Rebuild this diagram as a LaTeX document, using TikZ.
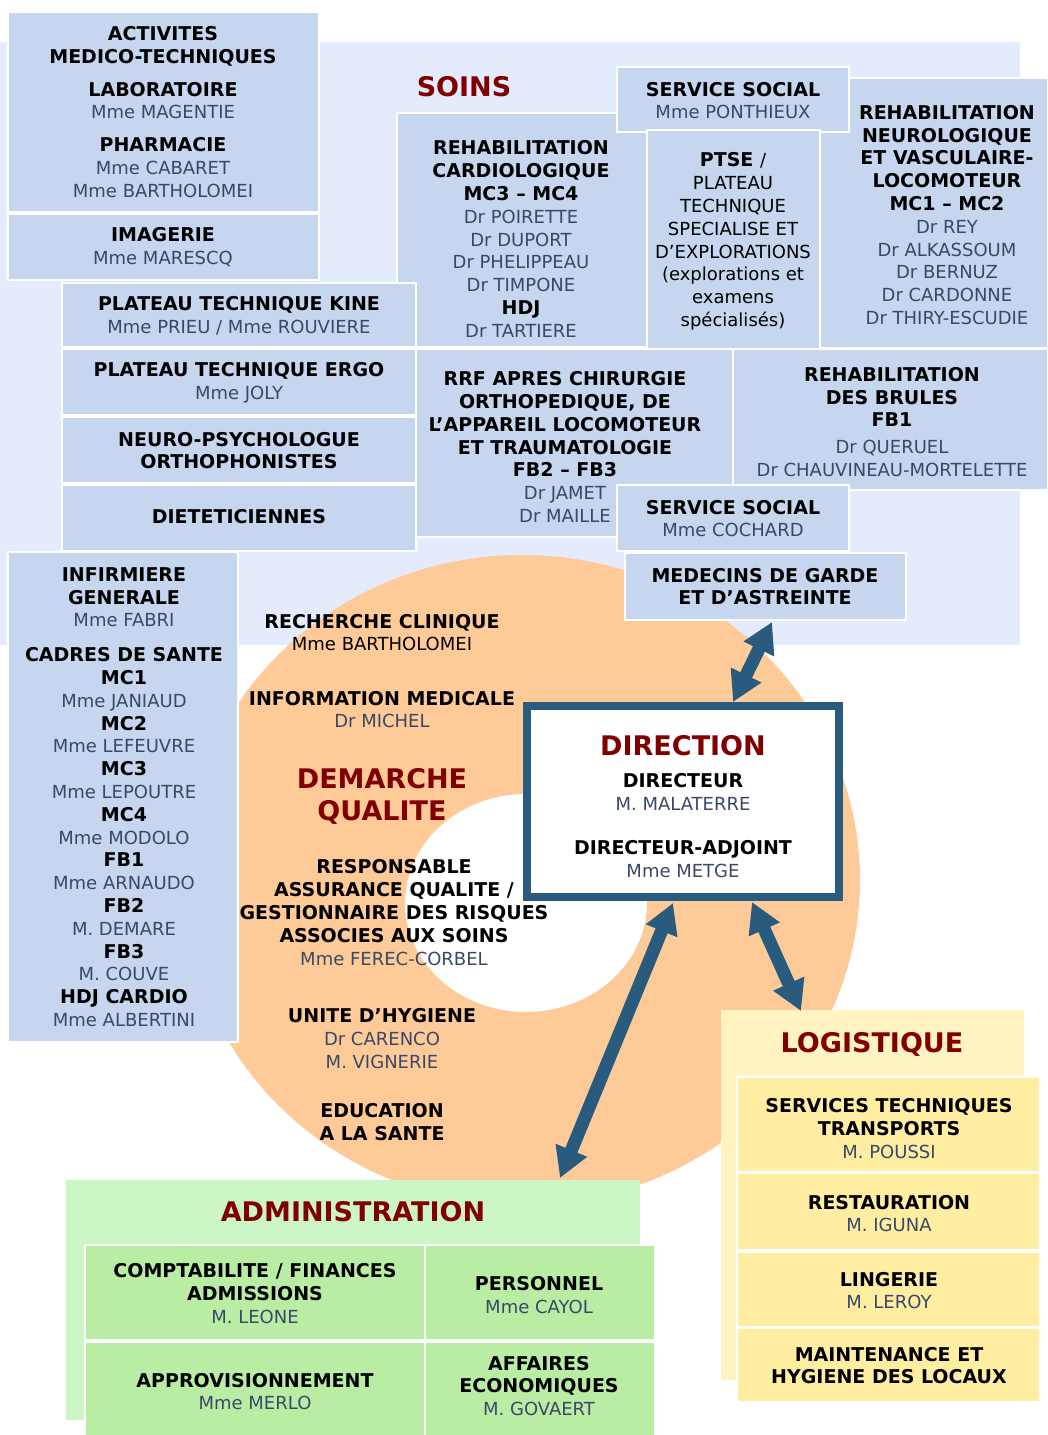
\documentclass[tikz,border=0pt]{standalone}
\usepackage{fontspec}
\setmainfont{DejaVu Sans}
\usetikzlibrary{arrows.meta,calc,fit}

\definecolor{soinsbg}{RGB}{228,235,252}
\definecolor{soinsbox}{RGB}{197,214,238}
\definecolor{ringpeach}{RGB}{254,203,152}
\definecolor{adminbg}{RGB}{205,246,199}
\definecolor{adminbox}{RGB}{186,237,164}
\definecolor{logibg}{RGB}{255,244,193}
\definecolor{logibox}{RGB}{255,237,161}
\definecolor{titlered}{RGB}{128,0,0}
\definecolor{namegray}{RGB}{58,72,104}
\definecolor{dirblue}{RGB}{41,91,126}

\newcommand\pers[1]{{\mdseries\fontsize{9}{11.4}\selectfont\color{namegray}#1}}
\newcommand\plain[1]{{\mdseries\fontsize{9}{11.4}\selectfont #1}}

\tikzset{
	cell/.style={draw=white, line width=1pt, fill=soinsbox, inner sep=0pt, outer sep=0pt},
	lbl/.style={align=center, inner sep=0pt, font=\fontsize{9.5}{11.4}\selectfont\bfseries},
	heading/.style={align=center, inner sep=0pt, text=titlered, font=\fontsize{13.5}{16}\selectfont\bfseries},
	link/.style={draw=dirblue, line width=6.5pt, {Triangle[length=15pt,width=16pt]}-{Triangle[length=15pt,width=16pt]}},
}

\begin{document}
\begin{tikzpicture}[x=0.5pt, y=-0.5pt]
		\useasboundingbox (0,0) rectangle (1048,1435);

		\fill[soinsbg] (0,42) rectangle (1020,645);
		\fill[ringpeach, even odd rule] (522,880) ellipse [x radius=169pt, y radius=162.5pt] (526,903) ellipse [x radius=60.5pt, y radius=54.5pt];

		\node[heading] (soins) at (464,87) {SOINS};

		\node[cell, fit={(820,78) (1048,348)}] (neuro) {};
		\node[cell, fit={(397,113) (647,347)}] (cardio) {};
		\node[cell, fit={(617,67) (849,132)}] (social) {};
		\node[cell, fit={(647,130) (820,353)}] (ptse) {};
		\node[cell, fit={(416,349) (733,537)}] (rrf) {};
		\node[cell, fit={(733,349) (1048,490)}] (brules) {};
		\node[cell, fit={(617,485) (849,551)}] (cochard) {};
		\node[cell, fit={(625,553) (906,620)}] (garde) {};

		\node[cell, fit={(8,12) (319,212)}] (medtech) {};
		\node[cell, fit={(8,214) (319,280)}] (imagerie) {};
		\node[cell, fit={(62,283) (416,347)}] (kine) {};
		\node[cell, fit={(62,349) (416,415)}] (ergo) {};
		\node[cell, fit={(62,417) (416,483)}] (psycho) {};
		\node[cell, fit={(62,485) (416,551)}] (diet) {};
		\node[cell, fit={(8,552) (238,1042)}] (infirm) {};

		\node[lbl] (medtecht) at (163,112) {ACTIVITES\\MEDICO-TECHNIQUES\\[5pt]LABORATOIRE\\\pers{Mme MAGENTIE}\\[5pt]PHARMACIE\\\pers{Mme CABARET}\\\pers{Mme BARTHOLOMEI}};
		\node[lbl] (imageriet) at (163,247) {IMAGERIE\\\pers{Mme MARESCQ}};
		\node[lbl] (kinet) at (239,316) {PLATEAU TECHNIQUE KINE\\\pers{Mme PRIEU / Mme ROUVIERE}};
		\node[lbl] (ergot) at (239,382.5) {PLATEAU TECHNIQUE ERGO\\\pers{Mme JOLY}};
		\node[lbl] (psychot) at (239,450.5) {NEURO-PSYCHOLOGUE\\ORTHOPHONISTES};
		\node[lbl] (diett) at (239,517) {DIETETICIENNES};

		\node[lbl] (cardiot) at (521,239) {REHABILITATION\\CARDIOLOGIQUE\\MC3 – MC4\\\pers{Dr POIRETTE}\\\pers{Dr DUPORT}\\\pers{Dr PHELIPPEAU}\\\pers{Dr TIMPONE}\\HDJ\\\pers{Dr TARTIERE}};
		\node[lbl] (socialt) at (733,100.5) {SERVICE SOCIAL\\\pers{Mme PONTHIEUX}};
		\node[lbl] (ptset) at (733,241.5) {PTSE \plain{/}\\\plain{PLATEAU}\\\plain{TECHNIQUE}\\\plain{SPECIALISE ET}\\\plain{D’EXPLORATIONS}\\\plain{(explorations et}\\\plain{examens}\\\plain{spécialisés)}};
		\node[lbl] (neurot) at (947,215) {REHABILITATION\\NEUROLOGIQUE\\ET VASCULAIRE-\\LOCOMOTEUR\\MC1 – MC2\\\pers{Dr REY}\\\pers{Dr ALKASSOUM}\\\pers{Dr BERNUZ}\\\pers{Dr CARDONNE}\\\pers{Dr THIRY-ESCUDIE}};
		\node[lbl] (rrft) at (565,447) {RRF APRES CHIRURGIE\\ORTHOPEDIQUE, DE\\L’APPAREIL LOCOMOTEUR\\ET TRAUMATOLOGIE\\FB2 – FB3\\\pers{Dr JAMET}\\\pers{Dr MAILLE}};
		\node[lbl] (brulest) at (892,422) {REHABILITATION\\DES BRULES\\FB1\\[2pt]\pers{Dr QUERUEL}\\\pers{Dr CHAUVINEAU-MORTELETTE}};
		\node[lbl] (cochardt) at (733,518.5) {SERVICE SOCIAL\\\pers{Mme COCHARD}};
		\node[lbl] (gardet) at (765,586.5) {MEDECINS DE GARDE\\ET D’ASTREINTE};

		\node[lbl] (infirmt) at (124,797) {INFIRMIERE\\GENERALE\\\pers{Mme FABRI}\\[6pt]CADRES DE SANTE\\MC1\\\pers{Mme JANIAUD}\\MC2\\\pers{Mme LEFEUVRE}\\MC3\\\pers{Mme LEPOUTRE}\\MC4\\\pers{Mme MODOLO}\\FB1\\\pers{Mme ARNAUDO}\\FB2\\\pers{M. DEMARE}\\FB3\\\pers{M. COUVE}\\HDJ CARDIO\\\pers{Mme ALBERTINI}};

		\node[lbl] (recherche) at (382,632.5) {RECHERCHE CLINIQUE\\\plain{Mme BARTHOLOMEI}};
		\node[lbl] (infomed) at (382,709.5) {INFORMATION MEDICALE\\\pers{Dr MICHEL}};
		\node[heading] (qualite) at (382,796) {DEMARCHE\\QUALITE};
		\node[lbl] (risques) at (394,912.5) {RESPONSABLE\\ASSURANCE QUALITE /\\GESTIONNAIRE DES RISQUES\\ASSOCIES AUX SOINS\\\pers{Mme FEREC-CORBEL}};
		\node[lbl] (hygiene) at (382,1038.5) {UNITE D’HYGIENE\\\pers{Dr CARENCO}\\\pers{M. VIGNERIE}};
		\node[lbl] (education) at (382,1122) {EDUCATION\\A LA SANTE};

		\node[fit={(527,706) (839,897)}, draw=dirblue, line width=3.75pt, fill=white, inner sep=0pt, outer sep=0pt] (direction) {};
		\node[heading] (directiont) at (683,746) {DIRECTION};
		\node[lbl] (directeurs) at (683,825.5) {DIRECTEUR\\\pers{M. MALATERRE}\\[11pt]DIRECTEUR-ADJOINT\\\pers{Mme METGE}};

		\node[fit={(66,1180) (640,1420)}, fill=adminbg, inner sep=0pt, outer sep=0pt] (admin) {};
		\node[heading] (admint) at (353,1212) {ADMINISTRATION};
		\node[cell, fill=adminbox, fit={(85,1245) (425,1340)}] (compta) {};
		\node[cell, fill=adminbox, fit={(425,1245) (655,1340)}] (personnel) {};
		\node[cell, fill=adminbox, fit={(85,1342) (425,1437)}] (appro) {};
		\node[cell, fill=adminbox, fit={(425,1342) (655,1437)}] (affaires) {};
		\node[lbl] (comptat) at (255,1293.5) {COMPTABILITE / FINANCES\\ADMISSIONS\\\pers{M. LEONE}};
		\node[lbl] (personnelt) at (539,1295) {PERSONNEL\\\pers{Mme CAYOL}};
		\node[lbl] (approt) at (255,1391.5) {APPROVISIONNEMENT\\\pers{Mme MERLO}};
		\node[lbl] (affairest) at (539,1386) {AFFAIRES\\ECONOMIQUES\\\pers{M. GOVAERT}};

		\node[fit={(721,1010) (1024,1380)}, fill=logibg, inner sep=0pt, outer sep=0pt] (logi) {};
		\node[heading] (logit) at (872,1044) {LOGISTIQUE};
		\node[cell, fill=logibox, fit={(737,1077) (1040,1172)}] (techniques) {};
		\node[cell, fill=logibox, fit={(737,1173) (1040,1250)}] (restau) {};
		\node[cell, fill=logibox, fit={(737,1252) (1040,1327)}] (lingerie) {};
		\node[cell, fill=logibox, fit={(737,1328) (1040,1402)}] (maint) {};
		\node[lbl] (techniquest) at (889,1128.5) {SERVICES TECHNIQUES\\TRANSPORTS\\\pers{M. POUSSI}};
		\node[lbl] (restaut) at (889,1213.5) {RESTAURATION\\\pers{M. IGUNA}};
		\node[lbl] (lingeriet) at (889,1290.5) {LINGERIE\\\pers{M. LEROY}};
		\node[lbl] (maintt) at (889,1365.5) {MAINTENANCE ET\\HYGIENE DES LOCAUX};

		\draw[link] ($(garde.south)+(6.5,2)$) -- ($(direction.north)+(50,-4)$);
		\draw[link] ($(direction.south)+(-10,6)$) -- ($(admin.north)+(207,-2)$);
		\draw[link] ($(direction.south)+(69,5)$) -- ($(logi.north)+(-71.5,1)$);
	\end{tikzpicture}
\end{document}
